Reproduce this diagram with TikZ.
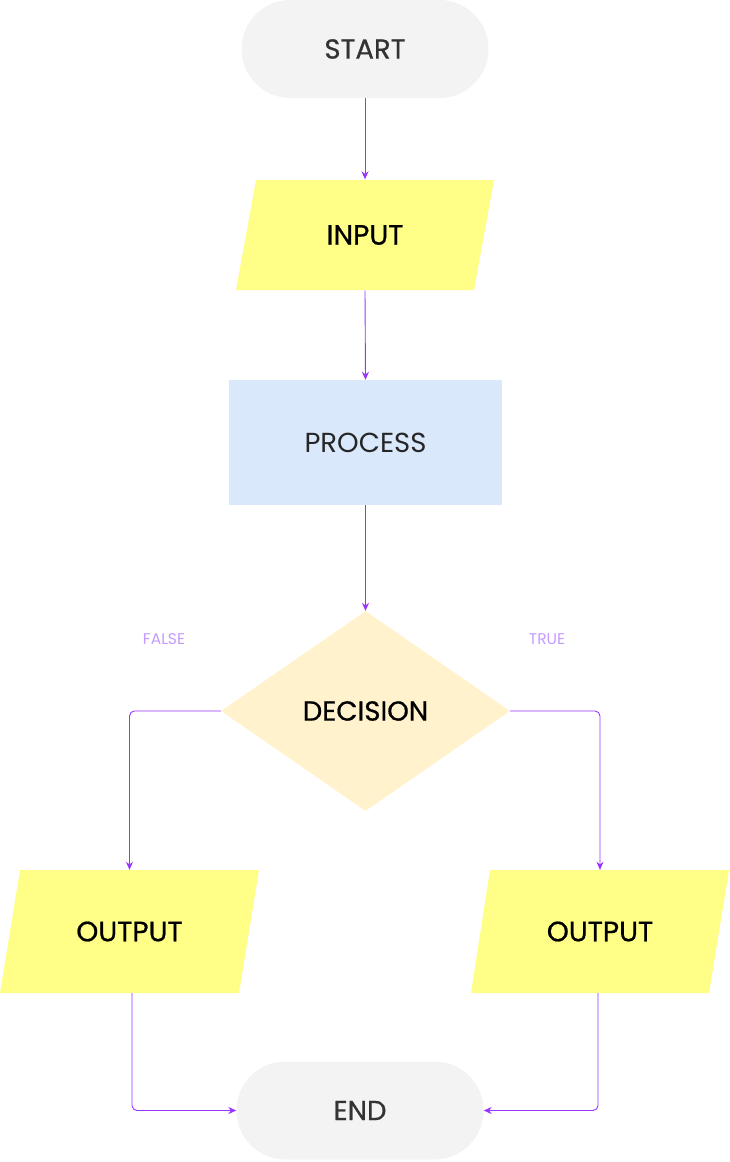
\documentclass[tikz,border=0pt]{standalone}
\usepackage{fontspec}
\setmainfont{Poppins}
\newfontfamily\medfont[FakeBold=0.7]{Poppins}
\usetikzlibrary{shapes.geometric,arrows.meta}
\definecolor{termfill}{HTML}{F3F3F3}
\definecolor{iofill}{HTML}{FFFF88}
\definecolor{procfill}{HTML}{DAE8FC}
\definecolor{decfill}{HTML}{FFF2CC}
\definecolor{arrowc}{HTML}{9933FF}
\definecolor{labelc}{HTML}{C39BFF}
\definecolor{termtext}{HTML}{333333}
\tikzset{
  term/.style={rectangle, rounded corners=49pt, fill=termfill, minimum width=247pt, minimum height=98pt, inner sep=0pt, font=\medfont\fontsize{27.5}{31}\selectfont, text=termtext},
  iotext/.style={rectangle, minimum height=111pt, minimum width=200pt, inner sep=0pt, font=\medfont\fontsize{28}{31}\selectfont, text=black},
  procbox/.style={rectangle, fill=procfill, minimum width=273pt, minimum height=125pt, inner sep=0pt, font=\fontsize{27.5}{31}\selectfont, text=black!85},
  decbox/.style={diamond, fill=decfill, minimum width=289pt, minimum height=200pt, aspect=1.445, inner sep=0pt, font=\medfont\fontsize{27.5}{31}\selectfont, text=black},
  conn/.style={draw=arrowc, line width=0.9pt, -{Stealth[length=8pt,width=7pt]}, rounded corners=5pt},
  lbl/.style={font=\fontsize{15.5}{18}\selectfont, text=labelc, inner sep=0pt}
}
\begin{document}
\begin{tikzpicture}[x=1pt,y=-1pt]
\useasboundingbox (0,0) rectangle (730,1162);
% parallelogram fills
\fill[iofill] (256,180) -- (494,180) -- (474,290) -- (236,290) -- cycle;
\fill[iofill] (20,870) -- (259,870) -- (239,993) -- (0,993) -- cycle;
\fill[iofill] (490,870) -- (729,870) -- (709,993) -- (471,993) -- cycle;
% nodes
\node[term] (start) at (365,49) {START};
\node[iotext] (input) at (365,235) {INPUT};
\node[procbox] (proc) at (365.5,442.5) {PROCESS};
\node[decbox] (dec) at (365.5,711) {DECISION};
\node[iotext, minimum height=123pt] (outL) at (129.5,931.5) {OUTPUT};
\node[iotext, minimum height=123pt] (outR) at (600,931.5) {OUTPUT};
\node[term] (end) at (360,1110.5) {END};
\node[lbl] (false) at (164,639) {FALSE};
\node[lbl] (true) at (547,639) {TRUE};
% connectors
\draw[conn] (start.south) -- (input.north);
\draw[conn] (input.south) -- (proc.north);
\draw[conn] (proc.south) -- (dec.north);
\draw[conn] (dec.west) -| (outL.north);
\draw[conn] (dec.east) -| (outR.north);
\draw[conn] ([xshift=2.5pt]outL.south) |- (end.west);
\draw[conn] ([xshift=-2pt]outR.south) |- (end.east);
\end{tikzpicture}
\end{document}
